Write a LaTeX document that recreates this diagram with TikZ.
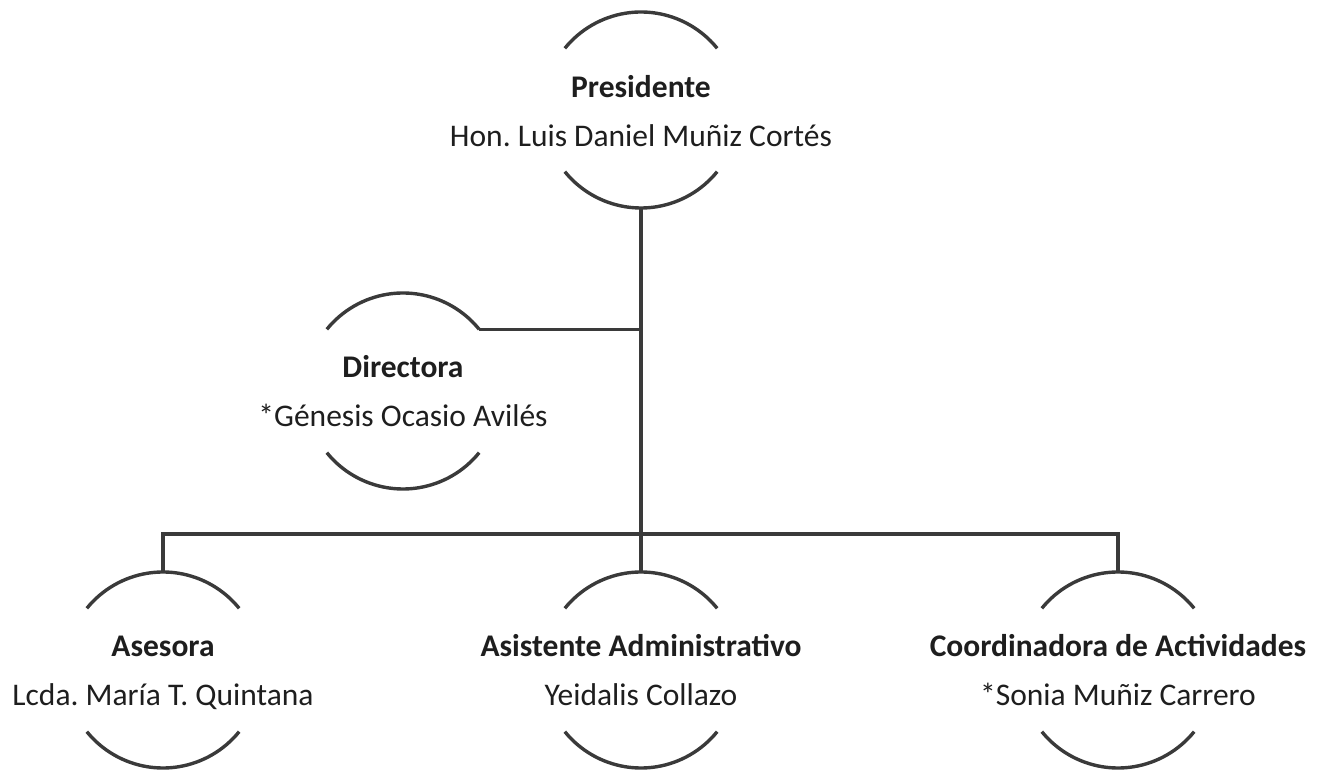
\documentclass[tikz,border=0pt]{standalone}
\usepackage{fontspec}
\setmainfont{Carlito}
\frenchspacing
\definecolor{linegray}{HTML}{3A3A3A}
\definecolor{textgray}{HTML}{1E1E1E}
\newcommand{\eqh}{\vphantom{Ápg}}
\begin{document}
\begin{tikzpicture}[x=1pt,y=1pt,
  ring/.style={circle,minimum size=196pt,inner sep=0pt,outer sep=0pt,draw=none},
  lbl/.style={align=center,text=textgray,font=\fontsize{31.5}{49}\selectfont,inner sep=0pt},
  arcline/.style={draw=linegray,line width=3.4pt},
  conn/.style={draw=linegray,line width=3.4pt}]
\useasboundingbox (0,0) rectangle (1326,771);
% rings
\node[ring] (pres) at (641,661) {};
\node[ring] (dir) at (403,380) {};
\node[ring] (ases) at (163,101) {};
\node[ring] (asis) at (641,101) {};
\node[ring] (coord) at (1118,101) {};
\coordinate (bus) at (641,237);
% arcs
\foreach \n in {pres,dir,ases,asis,coord}{
  \draw[arcline] (\n.39) arc[start angle=39,end angle=141,radius=98pt];
  \draw[arcline] (\n.219) arc[start angle=219,end angle=321,radius=98pt];
}
% labels
\node[lbl] (presl) at ([yshift=-2pt]pres.center) {\eqh\textbf{Presidente}\\\eqh Hon. Luis Daniel Muñiz Cortés};
\node[lbl] (dirl) at ([yshift=-1pt]dir.center) {\eqh\textbf{Directora}\\\eqh*Génesis Ocasio Avilés};
\node[lbl] (asesl) at ([yshift=-1pt]ases.center) {\eqh\textbf{Asesora}\\\eqh Lcda. María T. Quintana};
\node[lbl] (asisl) at ([yshift=-1pt]asis.center) {\eqh\textbf{Asistente Administrativo}\\\eqh Yeidalis Collazo};
\node[lbl] (coordl) at ([yshift=-1pt]coord.center) {\eqh\textbf{Coordinadora de Actividades}\\\eqh*Sonia Muñiz Carrero};
% connectors
\draw[conn] (pres.south) -- (asis.north);
\draw[conn] (dir.39) -- (dir.39 -| pres.south);
\draw[conn] (ases.north) -- (ases.north |- bus) -- (coord.north |- bus) -- (coord.north);
\end{tikzpicture}
\end{document}
